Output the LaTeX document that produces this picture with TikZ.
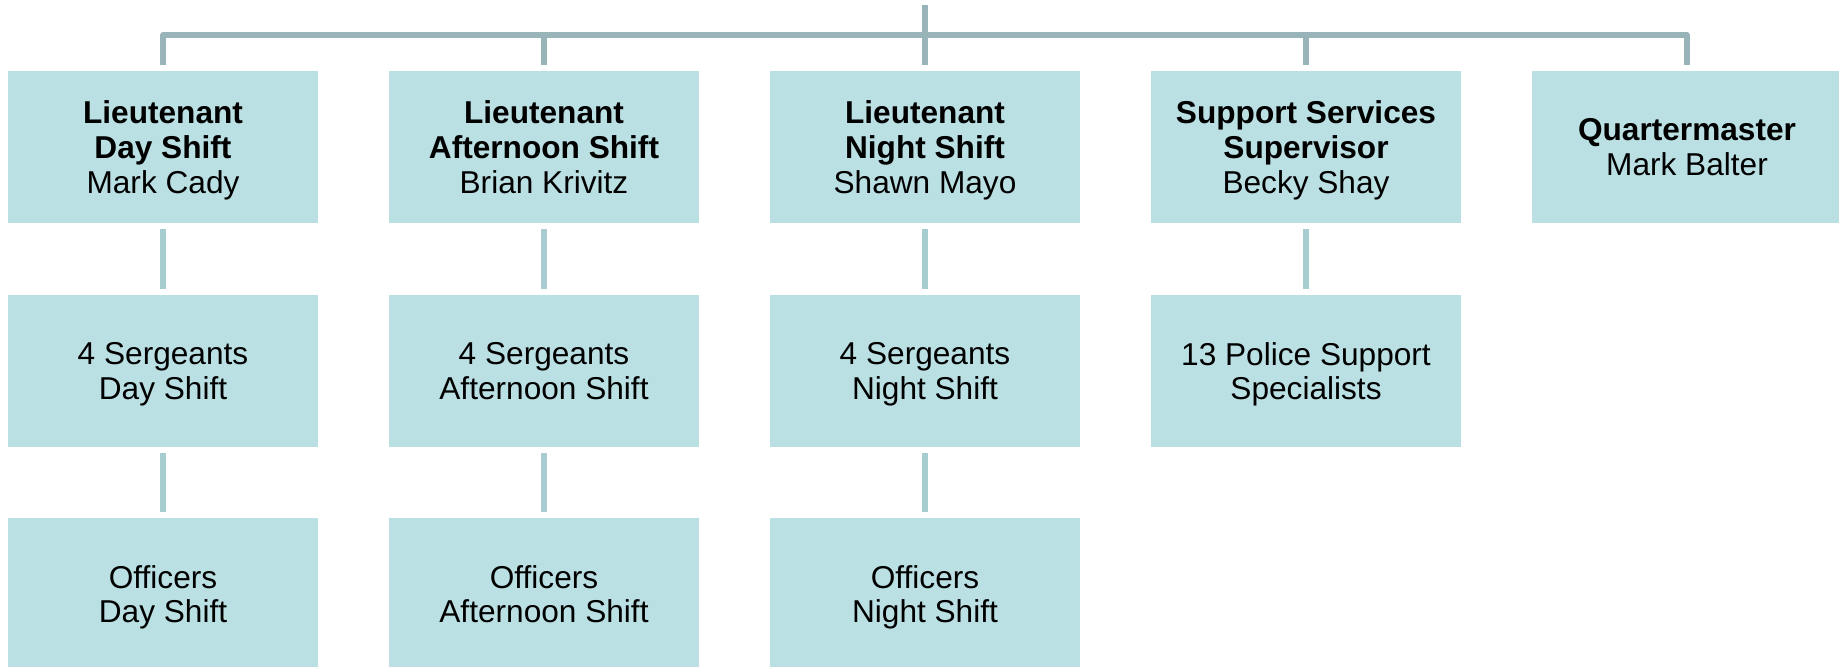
\documentclass[tikz,border=0pt]{standalone}
\usepackage{fontspec}
\setmainfont{Liberation Sans}
\definecolor{boxfill}{HTML}{BAE0E3}
\definecolor{busgray}{HTML}{98B4B8}
\definecolor{linkteal}{HTML}{A8CDD1}
\begin{document}
\begin{tikzpicture}[x=0.02cm,y=-0.02cm]
			\tikzstyle{unit} = [
				rectangle, fill = boxfill, align = center,
				inner sep = 0pt, minimum width = 6.2cm, minimum height = 3.04cm,
				text depth = -0.22em, font = \fontsize{18}{19.8}\selectfont
			]
			\tikzstyle{bus}=[-,draw=busgray,line width=3.1pt,line join=round,shorten <=6*0.02cm]
			\tikzstyle{link}=[-,draw=linkteal,line width=3.1pt,shorten >=6*0.02cm,shorten <=6*0.02cm]
			\useasboundingbox (0,0) rectangle (1839,666);
			\coordinate (top) at (925,5);
			\coordinate (hub) at (925,35);
			% first row
			\node[unit] (lt1) at (163,147) {\textbf{Lieutenant}\\\textbf{Day Shift}\\Mark Cady};
			\node[unit] (lt2) at (544,147) {\textbf{Lieutenant}\\\textbf{Afternoon Shift}\\Brian Krivitz};
			\node[unit] (lt3) at (925,147) {\textbf{Lieutenant}\\\textbf{Night Shift}\\Shawn Mayo};
			\node[unit] (sup) at (1306,147) {\textbf{Support Services}\\\textbf{Supervisor}\\Becky Shay};
			\node[unit] (qm) at (1687,147) {\textbf{Quartermaster}\\Mark Balter};
			% second row
			\node[unit] (sg1) at (163,371) {4 Sergeants\\Day Shift};
			\node[unit] (sg2) at (544,371) {4 Sergeants\\Afternoon Shift};
			\node[unit] (sg3) at (925,371) {4 Sergeants\\Night Shift};
			\node[unit] (psp) at (1306,371) {13 Police Support\\Specialists};
			% third row
			\node[unit] (of1) at (163,594) {Officers\\Day Shift};
			\node[unit] (of2) at (544,594) {Officers\\Afternoon Shift};
			\node[unit] (of3) at (925,594) {Officers\\Night Shift};
			% top bar
			\draw (lt1.north) |- (hub) [bus];
			\draw (lt2.north) |- (hub) [bus];
			\draw (lt3.north) -- (top) [bus];
			\draw (sup.north) |- (hub) [bus];
			\draw (qm.north) |- (hub) [bus];
			% columns
			\draw (lt1) to (sg1) [link];
			\draw (sg1) to (of1) [link];
			\draw (lt2) to (sg2) [link];
			\draw (sg2) to (of2) [link];
			\draw (lt3) to (sg3) [link];
			\draw (sg3) to (of3) [link];
			\draw (sup) to (psp) [link];
		\end{tikzpicture}
\end{document}
